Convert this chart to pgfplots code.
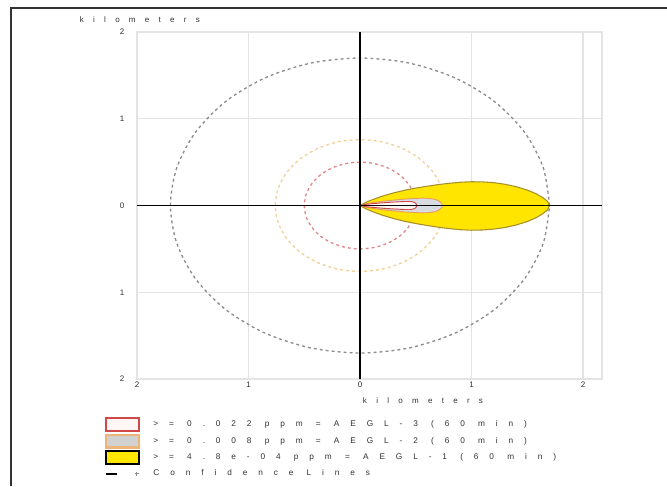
\documentclass[border=0pt]{standalone}
\usepackage{fontspec}
\setmainfont{Liberation Sans}
\newfontfamily\spaced[LetterSpace=116]{Liberation Sans}
\newfontfamily\spacedleg[LetterSpace=132]{Liberation Sans}
\usepackage{pgfplots}
\pgfplotsset{compat=1.18}
\definecolor{plumeY}{HTML}{FFE500}
\definecolor{plumeYedge}{HTML}{A89028}
\definecolor{plumeG}{HTML}{D8DCE2}
\definecolor{plumeGedge}{HTML}{E8A058}
\definecolor{plumeR}{HTML}{FFF6F6}
\definecolor{plumeRedge}{HTML}{D04848}
\definecolor{circG}{HTML}{8C8C8C}
\definecolor{circO}{HTML}{F2D09A}
\definecolor{circR}{HTML}{E08888}
\definecolor{gridc}{HTML}{E4E4E4}
\definecolor{txt}{HTML}{303030}
\begin{document}
\begin{tikzpicture}
\useasboundingbox (0,0) rectangle (500.25pt,-364.5pt);
\draw[line width=1.1pt, black!80] (8.25pt,-364.5pt) -- (8.25pt,-6pt) -- (500.25pt,-6pt);
\begin{axis}[
  at={(102.75pt,-284.25pt)}, anchor=south west,
  scale only axis, width=348.75pt, height=260.25pt,
  xmin=-2, xmax=2.17, ymin=-2, ymax=2,
  xtick={-2,-1,0,1,2}, xticklabels={2,1,0,1,2},
  ytick={-2,-1,0,1,2}, yticklabels={2,1,0,1,2},
  major tick length=0pt,
  grid=major, major grid style={gridc, line width=1pt},
  axis line style={gridc, line width=1pt},
  tick label style={font=\spaced\fontsize{6}{7}\selectfont, text=txt},
  yticklabel style={xshift=-6pt},
  xticklabel style={yshift=1pt},
  xlabel={\spaced kilometers}, ylabel={\spaced kilometers},
  every axis x label/.style={at={(axis description cs:0.615,-0.0634)}, anchor=center, font=\fontsize{6}{7}\selectfont, text=txt},
  every axis y label/.style={at={(axis description cs:-0.133,1.0346)}, anchor=west, font=\fontsize{6}{7}\selectfont, text=txt},
  legend style={at={(-0.0688,-0.1095)}, anchor=north west, draw=none, fill=none, inner sep=0pt, outer sep=0pt,
    font=\spacedleg\fontsize{6.2}{7}\selectfont, text=txt, row sep=1.3pt, column sep=9.75pt,
    nodes={inner sep=0pt, text height=6.5pt, text depth=3.5pt}},
  legend cell align=left,
]
% confidence circles
\addplot[forget plot, circG, line width=1pt, dash pattern=on 2.2pt off 2.3pt, smooth] coordinates {
(1.7,0) (1.642,0.44) (1.472,0.85) (1.202,1.202) (0.85,1.472) (0.44,1.642) (0,1.7) (-0.44,1.642) (-0.85,1.472) (-1.202,1.202) (-1.472,0.85) (-1.642,0.44) (-1.7,0) (-1.642,-0.44) (-1.472,-0.85) (-1.202,-1.202) (-0.85,-1.472) (-0.44,-1.642) (0,-1.7) (0.44,-1.642) (0.85,-1.472) (1.202,-1.202) (1.472,-0.85) (1.642,-0.44) (1.7,0)};
\addplot[forget plot, circO, line width=1pt, dash pattern=on 2.2pt off 2.3pt, smooth] coordinates {
(0.76,0) (0.734,0.197) (0.658,0.38) (0.537,0.537) (0.38,0.658) (0.197,0.734) (0,0.76) (-0.197,0.734) (-0.38,0.658) (-0.537,0.537) (-0.658,0.38) (-0.734,0.197) (-0.76,0) (-0.734,-0.197) (-0.658,-0.38) (-0.537,-0.537) (-0.38,-0.658) (-0.197,-0.734) (0,-0.76) (0.197,-0.734) (0.38,-0.658) (0.537,-0.537) (0.658,-0.38) (0.734,-0.197) (0.76,0)};
\addplot[forget plot, circR, line width=1pt, dash pattern=on 2.2pt off 2.3pt, smooth] coordinates {
(0.5,0) (0.483,0.129) (0.433,0.25) (0.354,0.354) (0.25,0.433) (0.129,0.483) (0,0.5) (-0.129,0.483) (-0.25,0.433) (-0.354,0.354) (-0.433,0.25) (-0.483,0.129) (-0.5,0) (-0.483,-0.129) (-0.433,-0.25) (-0.354,-0.354) (-0.25,-0.433) (-0.129,-0.483) (0,-0.5) (0.129,-0.483) (0.25,-0.433) (0.354,-0.354) (0.433,-0.25) (0.483,-0.129) (0.5,0)};
% yellow zone (AEGL-1)
\addplot[forget plot, draw=plumeYedge, fill=plumeY, line width=0.8pt] coordinates {
(0,0) (0.05,0.035) (0.1,0.062) (0.2,0.108) (0.3,0.145) (0.4,0.176) (0.5,0.201) (0.6,0.222) (0.7,0.241) (0.8,0.256) (0.9,0.268) (1.0,0.274) (1.1,0.272) (1.2,0.263) (1.3,0.245) (1.4,0.217) (1.5,0.178) (1.58,0.135) (1.64,0.09) (1.68,0.05) (1.7,0)
(1.68,-0.052) (1.64,-0.094) (1.58,-0.14) (1.5,-0.185) (1.4,-0.225) (1.3,-0.254) (1.2,-0.272) (1.1,-0.282) (1.0,-0.285) (0.9,-0.279) (0.8,-0.266) (0.7,-0.25) (0.6,-0.23) (0.5,-0.208) (0.4,-0.182) (0.3,-0.15) (0.2,-0.112) (0.1,-0.064) (0.05,-0.036) (0,0)} -- cycle;
% gray zone (AEGL-2)
\addplot[forget plot, draw=plumeGedge, fill=plumeG, line width=0.7pt] coordinates {
(0,0) (0.05,0.018) (0.1,0.03) (0.2,0.048) (0.3,0.062) (0.4,0.074) (0.5,0.082) (0.56,0.085) (0.62,0.082) (0.67,0.072) (0.7,0.058) (0.72,0.04) (0.735,0.02) (0.74,0)
(0.735,-0.02) (0.72,-0.04) (0.7,-0.058) (0.67,-0.072) (0.62,-0.082) (0.56,-0.085) (0.5,-0.082) (0.4,-0.074) (0.3,-0.062) (0.2,-0.048) (0.1,-0.03) (0.05,-0.018) (0,0)} -- cycle;
% red zone (AEGL-3)
\addplot[forget plot, draw=plumeRedge, fill=plumeR, line width=0.7pt] coordinates {
(0,0) (0.05,0.012) (0.1,0.02) (0.2,0.031) (0.3,0.04) (0.4,0.046) (0.46,0.046) (0.49,0.035) (0.505,0.015) (0.51,0)
(0.505,-0.015) (0.49,-0.035) (0.46,-0.046) (0.4,-0.046) (0.3,-0.04) (0.2,-0.031) (0.1,-0.02) (0.05,-0.012) (0,0)} -- cycle;
% axes through origin
\addplot[forget plot, black, line width=1.1pt] coordinates {(-2,0) (2.17,0)};
\addplot[forget plot, black, line width=1.1pt] coordinates {(0,-2) (0,2)};
% legend
\addlegendimage{legend image code/.code={\draw[draw=plumeRedge, fill=plumeR, line width=1.6pt] (0pt,-4.8pt) rectangle (25pt,4.8pt);}}
\addlegendentry{>= 0.022 ppm = AEGL-3 (60 min)}
\addlegendimage{legend image code/.code={\draw[draw=plumeGedge!80, fill=black!18, line width=1.6pt] (0pt,-4.8pt) rectangle (25pt,4.8pt);}}
\addlegendentry{>= 0.008 ppm = AEGL-2 (60 min)}
\addlegendimage{legend image code/.code={\draw[draw=black, fill=plumeY, line width=1.6pt] (0pt,-4.8pt) rectangle (25pt,4.8pt);}}
\addlegendentry{>= 4.8e-04 ppm = AEGL-1 (60 min)}
\addlegendimage{legend image code/.code={\draw[black, line width=1.6pt] (0pt,0pt) -- (8pt,0pt); \draw[black!45, line width=0.6pt] (21.5pt,0pt) -- (24.5pt,0pt) (23pt,-1.5pt) -- (23pt,1.5pt);}}
\addlegendentry{Confidence Lines}
\end{axis}
\end{tikzpicture}
\end{document}
